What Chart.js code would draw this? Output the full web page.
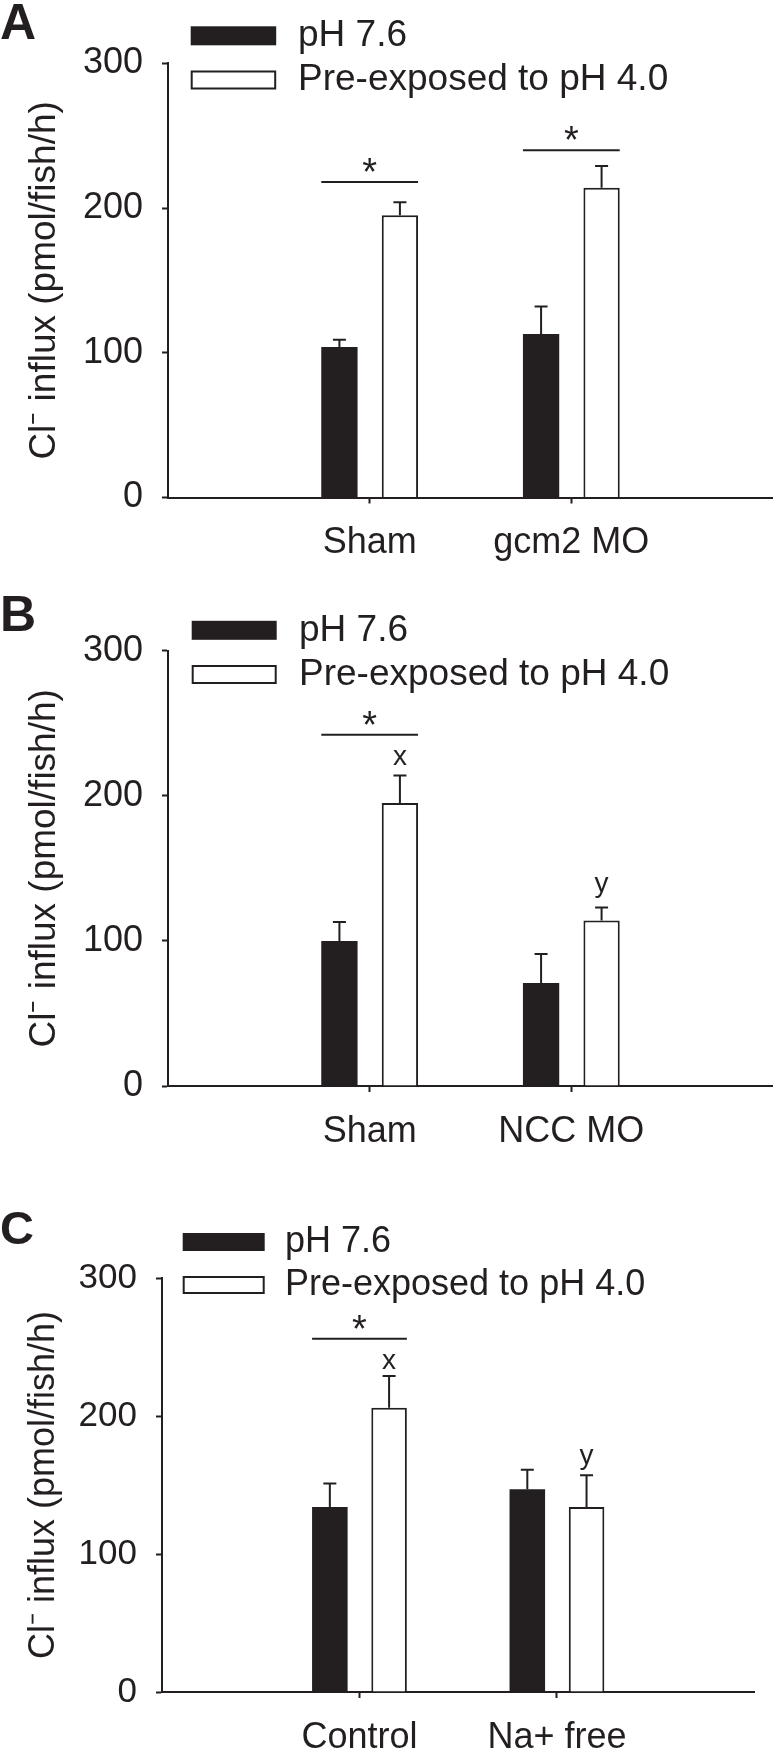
<!DOCTYPE html>
<html>
<head>
<meta charset="utf-8">
<script src="https://cdn.jsdelivr.net/npm/chart.js@4.4.0/dist/chart.umd.min.js"></script>
<style>
html, body { margin: 0; padding: 0; background: #fff; }
body { width: 773px; height: 1761px; position: relative; overflow: hidden; }
.panel { position: absolute; left: 0; width: 773px; }
</style>
</head>
<body>
<div class="panel" style="top:0;height:580px"><canvas id="chartA"></canvas></div>
<div class="panel" style="top:580px;height:610px"><canvas id="chartB"></canvas></div>
<div class="panel" style="top:1190px;height:571px"><canvas id="chartC"></canvas></div>
<script>
var INK = "#231f20";
var FONT = '"Liberation Sans", Arial, Helvetica, sans-serif';

var seriesNames = ["pH 7.6", "Pre-exposed to pH 4.0"];
var yTitle = "Cl\u207B influx (pmol/fish/h)";

// panel A
var catsA = ["Sham", "gcm2 MO"];
var ctrlA = [104, 113];
var ctrlErrA = [5, 19];
var acidA = [195, 214];
var acidErrA = [9, 15];
var sigA = [218, 240];          // height of the * line over each group
var markA = [null, null];       // letter over the white bar
var markAtA = [null, null];

// panel B
var catsB = ["Sham", "NCC MO"];
var ctrlB = [100, 71];
var ctrlErrB = [13, 20];
var acidB = [195, 114];
var acidErrB = [19, 9];
var sigB = [242, null];
var markB = ["x", "y"];
var markAtB = [221, 134];

// panel C
var catsC = ["Control", "Na+ free"];
var ctrlC = [134, 147];
var ctrlErrC = [17, 14];
var acidC = [206, 134];
var acidErrC = [23, 23];
var sigC = [256, null];
var markC = ["x", "y"];
var markAtC = [234, 165];

Chart.defaults.font.family = FONT;
Chart.defaults.color = INK;

// empty slot at each end so groups sit at 1/3 and 2/3 of the axis
function pad(arr) {
    return [null].concat(arr, [null]);
}

var extrasPlugin = {
    id: "extras",
    afterDatasetsDraw: function (chart) {
        var cfg = chart.options.plugins.extras;
        var ctx = chart.ctx;
        var ys = chart.scales.y;
        var m0 = chart.getDatasetMeta(0), m1 = chart.getDatasetMeta(1);
        ctx.save();
        ctx.strokeStyle = INK;
        ctx.fillStyle = INK;
        ctx.lineWidth = 2;
        // upper error bars
        chart.data.datasets.forEach(function (ds, di) {
            var meta = chart.getDatasetMeta(di);
            ds.data.forEach(function (v, i) {
                if (v == null) return;
                var bar = meta.data[i];
                var y0 = ys.getPixelForValue(v);
                var y1 = ys.getPixelForValue(v + ds.errors[i]);
                ctx.beginPath();
                ctx.moveTo(bar.x, y0);
                ctx.lineTo(bar.x, y1);
                ctx.moveTo(bar.x - 6.5, y1);
                ctx.lineTo(bar.x + 6.5, y1);
                ctx.stroke();
            });
        });
        // significance lines with *
        ctx.textAlign = "center";
        ctx.textBaseline = "alphabetic";
        cfg.sig.forEach(function (h, i) {
            if (h == null) return;
            var a = m0.data[i], b = m1.data[i];
            var x0 = a.x - a.width / 2, x1 = b.x + b.width / 2;
            var y = ys.getPixelForValue(h);
            ctx.beginPath();
            ctx.moveTo(x0, y);
            ctx.lineTo(x1, y);
            ctx.stroke();
            ctx.font = "38px " + FONT;
            ctx.fillText("*", (x0 + x1) / 2, y + 3);
        });
        // x / y letters
        cfg.marks.forEach(function (t, i) {
            if (!t) return;
            var b = m1.data[i];
            ctx.font = "28px " + FONT;
            ctx.fillText(t, b.x, ys.getPixelForValue(cfg.markAt[i]));
        });
        // legend
        var lg = cfg.legend;
        chart.data.datasets.forEach(function (ds, di) {
            var cy = lg.y + di * lg.gap;
            ctx.fillStyle = ds.backgroundColor;
            ctx.fillRect(lg.x, cy - lg.h / 2, lg.w, lg.h);
            if (ds.borderWidth) {
                ctx.lineWidth = 2;
                ctx.strokeStyle = INK;
                ctx.strokeRect(lg.x + 1, cy - lg.h / 2 + 1, lg.w - 2, lg.h - 2);
            }
            ctx.fillStyle = INK;
            ctx.font = lg.fs + "px " + FONT;
            ctx.textAlign = "left";
            ctx.textBaseline = "middle";
            ctx.fillText(ds.label, lg.tx, cy);
        });
        ctx.restore();
    }
};

function makePanel(id, p) {
    var ctx = document.getElementById(id).getContext("2d");
    return new Chart(ctx, {
        type: "bar",
        data: {
            labels: ["", ...p.cats, ""],
            datasets: [{
                label: seriesNames[0],
                data: pad(p.ctrl),
                errors: pad(p.ctrlErr),
                backgroundColor: INK,
                borderWidth: 0
            }, {
                label: seriesNames[1],
                data: pad(p.acid),
                errors: pad(p.acidErr),
                backgroundColor: "#ffffff",
                borderColor: INK,
                borderWidth: 2
            }]
        },
        options: {
            responsive: true,
            maintainAspectRatio: false,
            animation: false,
            categoryPercentage: 0.6,
            barPercentage: 0.6,
            layout: { padding: { left: 0, top: 0, right: p.padRight, bottom: p.padBottom } },
            plugins: {
                legend: { display: false },
                tooltip: { enabled: false },
                title: {
                    display: true,
                    text: p.letter,
                    align: "start",
                    color: INK,
                    font: { size: p.letterSize, weight: "bold", lineHeight: 1 },
                    padding: { top: p.letterPad[0], bottom: p.letterPad[1] }
                },
                extras: {
                    sig: pad(p.sig),
                    marks: pad(p.marks),
                    markAt: pad(p.markAt),
                    legend: p.legend
                }
            },
            scales: {
                x: {
                    offset: false,
                    afterFit: function (s) { s.height = p.xHeight; },
                    border: { color: INK, width: 2 },
                    grid: {
                        offset: false,
                        drawOnChartArea: false,
                        tickLength: 6,
                        tickWidth: 2,
                        tickColor: function (c) { return c.tick && c.tick.label ? INK : "rgba(0,0,0,0)"; }
                    },
                    // tall line height instead of tick padding, so the axis keeps its right end
                    ticks: { autoSkip: false, maxRotation: 0, padding: 0, color: INK, font: { size: 36, lineHeight: 2.2 } }
                },
                y: {
                    min: 0,
                    max: 300,
                    afterFit: function (s) { s.width = p.yWidth; },
                    border: { color: INK, width: 2 },
                    grid: { drawOnChartArea: false, tickLength: 6, tickWidth: 2, tickColor: INK },
                    ticks: { stepSize: 100, padding: 19, color: INK, font: { size: p.tickSize } },
                    title: {
                        display: true,
                        text: yTitle,
                        color: INK,
                        font: { size: p.titleSize },
                        padding: { top: p.titlePad, bottom: 0 }
                    }
                }
            }
        },
        plugins: [extrasPlugin]
    });
}

makePanel("chartA", {
    cats: catsA, ctrl: ctrlA, ctrlErr: ctrlErrA, acid: acidA, acidErr: acidErrA,
    sig: sigA, marks: markA, markAt: markAtA,
    letter: "A", letterSize: 50, letterPad: [0.5, 12.8],
    padBottom: 7.5, padRight: 0, yWidth: 168, tickSize: 36, xHeight: 75,
    titleSize: 37, titlePad: 23,
    legend: { x: 190.7, y: 35.8, w: 85.5, h: 19, gap: 44.2, tx: 298, fs: 37 }
});
makePanel("chartB", {
    cats: catsB, ctrl: ctrlB, ctrlErr: ctrlErrB, acid: acidB, acidErr: acidErrB,
    sig: sigB, marks: markB, markAt: markAtB,
    letter: "B", letterSize: 50, letterPad: [12.5, 8.2],
    padBottom: 29, padRight: 0, yWidth: 168, tickSize: 36, xHeight: 75,
    titleSize: 37, titlePad: 23,
    legend: { x: 191.7, y: 50.3, w: 85, h: 19, gap: 44.2, tx: 299, fs: 37 }
});
makePanel("chartC", {
    cats: catsC, ctrl: ctrlC, ctrlErr: ctrlErrC, acid: acidC, acidErr: acidErrC,
    sig: sigC, marks: markC, markAt: markAtC,
    letter: "C", letterSize: 47, letterPad: [18, 23],
    padBottom: 0, padRight: 18.6, yWidth: 162, tickSize: 35, xHeight: 69,
    titleSize: 36, titlePad: 22.4,
    legend: { x: 182.7, y: 52, w: 82, h: 18, gap: 43, tx: 285, fs: 36 }
});
</script>
</body>
</html>
